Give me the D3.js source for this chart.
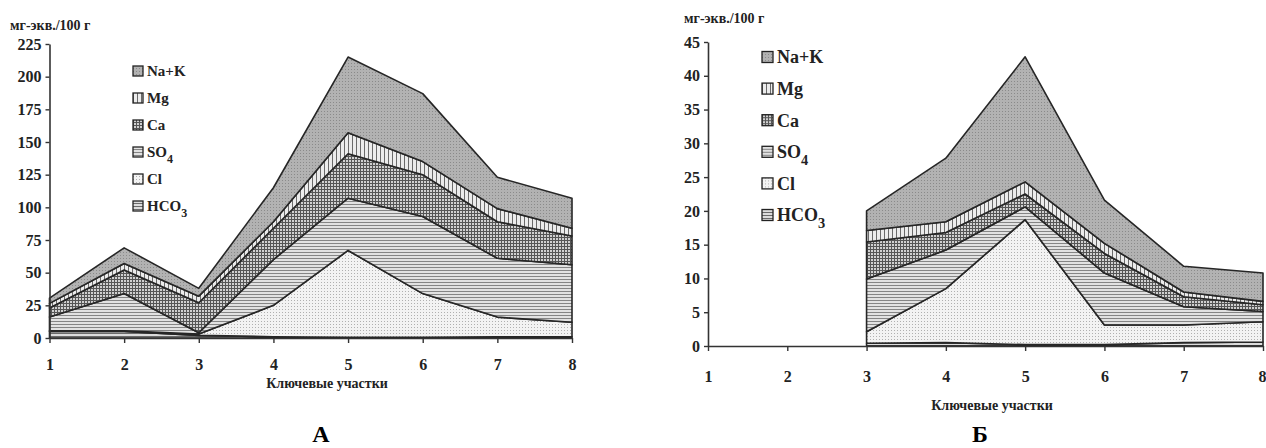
<!DOCTYPE html>
<html>
<head>
<meta charset="utf-8">
<script src="https://cdn.jsdelivr.net/npm/d3@7"></script>
<style>
  body { margin: 0; background: #fff; }
  svg { display: block; }
  svg text { font-family: "Liberation Serif", "DejaVu Serif", serif; font-weight: bold; }
</style>
</head>
<body>
<svg id="chart" width="1266" height="448"></svg>
<script>
// key sites on the x axis
const sites = [1, 2, 3, 4, 5, 6, 7, 8];
// series, from bottom layer to top layer
const ions = ["HCO3", "Cl", "SO4", "Ca", "Mg", "NaK"];
// legend order (top to bottom) with subscripts
const legendKeys = ["NaK", "Mg", "Ca", "SO4", "Cl", "HCO3"];
const legendText = { NaK: ["Na+K", ""], Mg: ["Mg", ""], Ca: ["Ca", ""], SO4: ["SO", "4"], Cl: ["Cl", ""], HCO3: ["HCO", "3"] };

// Panel A, mg-eq/100 g
const hco3A = [5, 5, 2, 1, 0.5, 0.5, 1, 1];
const clA   = [0.5, 0.5, 1, 24, 66.5, 33.5, 15, 11];
const so4A  = [10.5, 28.5, 1, 35, 40, 59, 45, 44];
const caA   = [7, 18, 23, 24, 34, 32, 28, 22];
const mgA   = [3.5, 5, 5, 5, 16, 10, 10, 6];
const nakA  = [4, 12, 6, 26, 58, 52, 24, 23];
const yTicksA = [0, 25, 50, 75, 100, 125, 150, 175, 200, 225];

// Panel B, mg-eq/100 g (sites 1 and 2 have no data)
const hco3B = [null, null, 0.4, 0.5, 0.2, 0.2, 0.5, 0.6];
const clB   = [null, null, 1.7, 8.0, 18.5, 2.9, 2.6, 3.0];
const so4B  = [null, null, 7.8, 5.7, 1.9, 7.7, 2.7, 1.5];
const caB   = [null, null, 5.5, 2.6, 1.9, 2.9, 1.5, 1.0];
const mgB   = [null, null, 1.7, 1.6, 1.8, 1.5, 0.7, 0.5];
const nakB  = [null, null, 2.9, 9.4, 18.5, 6.4, 3.8, 4.2];
const yTicksB = [0, 5, 10, 15, 20, 25, 30, 35, 40, 45];

const unitLabel = "мг-экв./100 г";
const xTitle = "Ключевые участки";

function rows(h, c, s, ca, m, n) {
  return sites.map((site, i) => ({
    site, has: h[i] != null,
    HCO3: h[i], Cl: c[i], SO4: s[i], Ca: ca[i], Mg: m[i], NaK: n[i]
  }));
}
const dataA = rows(hco3A, clA, so4A, caA, mgA, nakA);
const dataB = rows(hco3B, clB, so4B, caB, mgB, nakB);

const svg = d3.select("#chart");

// fill patterns imitating the black and white hatching
const defs = svg.append("defs");
function pattern(id, size, bg, marks) {
  const p = defs.append("pattern").attr("id", id)
    .attr("patternUnits", "userSpaceOnUse").attr("width", size).attr("height", size);
  p.append("rect").attr("width", size).attr("height", size).attr("fill", bg);
  marks.forEach(m => p.append("rect").attr("x", m[0]).attr("y", m[1])
    .attr("width", m[2]).attr("height", m[3]).attr("fill", m[4]));
}
pattern("p-NaK", 3, "#b2b2b2", [[0, 0, 1, 1, "#8a8a8a"]]);
pattern("p-Mg", 4, "#ececec", [[0, 0, 1, 4, "#6a6a6a"]]);
pattern("p-Ca", 3, "#d0d0d0", [[0, 0, 3, 1, "#555"], [0, 0, 1, 3, "#555"]]);
pattern("p-SO4", 3, "#e2e2e2", [[0, 0, 3, 1, "#858585"]]);
pattern("p-Cl", 3, "#f3f3f3", [[0, 0, 1, 1, "#b0b0b0"]]);
pattern("p-HCO3", 3, "#dcdcdc", [[0, 0, 3, 1, "#6a6a6a"]]);

function panel(cfg) {
  const x = d3.scaleLinear().domain([1, 8]).range(cfg.xRange);
  const y = d3.scaleLinear().domain([0, cfg.yMax]).range(cfg.yRange);
  const g = svg.append("g");

  const series = d3.stack().keys(ions).value((d, k) => d[k] || 0)(cfg.data);
  const area = d3.area()
    .defined(d => d.data.has)
    .x(d => x(d.data.site))
    .y0(d => y(d[0]))
    .y1(d => y(d[1]));

  g.selectAll("path.layer").data(series).join("path")
    .attr("class", "layer")
    .attr("d", area)
    .attr("fill", s => `url(#p-${s.key})`)
    .attr("stroke", "#262626")
    .attr("stroke-width", 1.6)
    .attr("stroke-linejoin", "round");

  // axes
  const yAxis = d3.axisLeft(y).tickValues(cfg.yTicks).tickSize(4).tickSizeOuter(0).tickPadding(4)
    .tickFormat(d3.format("d"));
  const gy = g.append("g").attr("transform", `translate(${cfg.xRange[0]},0)`).call(yAxis);
  const xAxis = d3.axisBottom(x).tickValues(sites).tickSize(5).tickSizeOuter(0).tickPadding(cfg.xPad)
    .tickFormat(d3.format("d"));
  const gx = g.append("g").attr("transform", `translate(0,${cfg.yRange[0]})`).call(xAxis);
  [gy, gx].forEach(a => {
    a.attr("font-family", null).attr("font-size", null);
    a.select(".domain").attr("stroke", "#333").attr("stroke-width", 1.6);
    a.selectAll(".tick line").attr("stroke", "#333").attr("stroke-width", 1.4);
    a.selectAll(".tick text").attr("fill", "#222").attr("font-size", cfg.tickSize);
  });
  // the last site label sits on the window edge
  if (cfg.lastEnd) gx.selectAll(".tick text").filter(d => d === 8).attr("text-anchor", "end").attr("dx", 3);

  // unit label and axis title
  g.append("text").attr("x", cfg.unitPos[0]).attr("y", cfg.unitPos[1])
    .attr("font-size", 14).attr("fill", "#222").text(unitLabel);
  g.append("text").attr("x", cfg.titlePos[0]).attr("y", cfg.titlePos[1])
    .attr("text-anchor", "middle").attr("font-size", 14).attr("fill", "#222").text(xTitle);
  g.append("text").attr("x", cfg.letterPos[0]).attr("y", cfg.letterPos[1])
    .attr("text-anchor", "middle").attr("font-size", 24).attr("fill", "#000").text(cfg.letter);

  // legend
  const lg = g.append("g").selectAll("g").data(legendKeys).join("g")
    .attr("transform", (d, i) => `translate(${cfg.legend.x},${cfg.legend.y + i * cfg.legend.step})`);
  lg.append("rect").attr("x", 0).attr("y", -cfg.legend.box / 2)
    .attr("width", cfg.legend.box).attr("height", cfg.legend.box)
    .attr("fill", d => `url(#p-${d})`).attr("stroke", "#222").attr("stroke-width", 1.3);
  const t = lg.append("text").attr("x", cfg.legend.box + 4).attr("y", 0).attr("dy", "0.35em")
    .attr("font-size", cfg.legend.font).attr("fill", "#222");
  t.append("tspan").text(d => legendText[d][0]);
  t.append("tspan").attr("dy", "0.45em").attr("font-size", cfg.legend.font * 0.8).text(d => legendText[d][1]);
}

panel({
  data: dataA, yMax: 225, yTicks: yTicksA,
  xRange: [49.5, 572], yRange: [338, 44], xPad: 16, tickSize: 16,
  unitPos: [10, 30], titlePos: [327, 388], letterPos: [321, 442], letter: "А",
  legend: { x: 133, y: 71, step: 27, box: 10, font: 15 }
});
panel({
  data: dataB, yMax: 45, yTicks: yTicksB,
  xRange: [708, 1263], yRange: [346, 42], xPad: 20, tickSize: 16, lastEnd: true,
  unitPos: [684, 23], titlePos: [992, 410], letterPos: [980, 442], letter: "Б",
  legend: { x: 762, y: 57, step: 31.6, box: 11, font: 18 }
});
</script>
</body>
</html>
